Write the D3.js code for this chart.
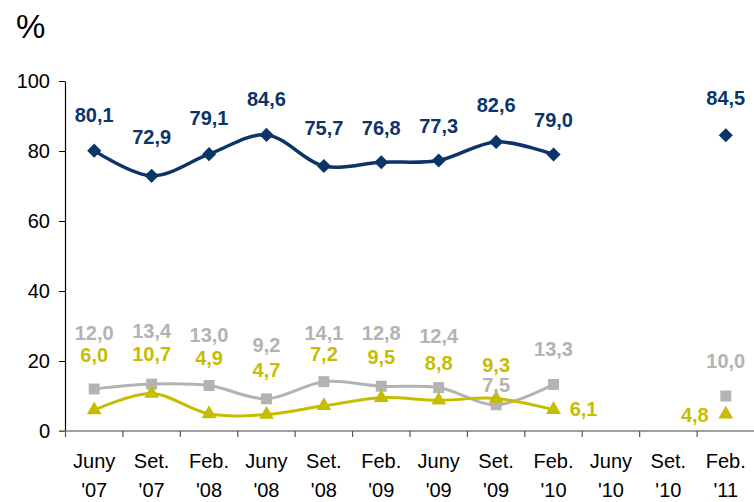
<!DOCTYPE html>
<html>
<head>
<meta charset="utf-8">
<script src="https://cdn.jsdelivr.net/npm/d3@7"></script>
<style>
  body { margin: 0; background: #fff; }
  svg { display: block; font-family: Arial, "Liberation Sans", sans-serif; }
</style>
</head>
<body>
<div id="chart"></div>
<script>
const categories = ["Juny '07", "Set. '07", "Feb. '08", "Juny '08", "Set. '08", "Feb. '09",
    "Juny '09", "Set. '09", "Feb. '10", "Juny '10", "Set. '10", "Feb. '11"];
const blueValues = [80.1, 72.9, 79.1, 84.6, 75.7, 76.8, 77.3, 82.6, 79.0, null, null, 84.5];
const grayValues = [12.0, 13.4, 13.0, 9.2, 14.1, 12.8, 12.4, 7.5, 13.3, null, null, 10.0];
const yellowValues = [6.0, 10.7, 4.9, 4.7, 7.2, 9.5, 8.8, 9.3, 6.1, null, null, 4.8];
const yTicks = [0, 20, 40, 60, 80, 100];

// label nudges [dx, dy] from each point to the text baseline
const blueLabelOffsets = [[0, -29], [0, -32], [0, -29], [0, -29], [0, -31], [0, -27], [0, -27], [0, -30], [0, -28], null, null, [0, -30]];
const grayLabelOffsets = [[0, -49], [0, -46], [0, -44], [0, -47], [0, -42], [0, -46], [0, -45], [0, -13], [0, -28], null, null, [0, -28]];
const yellowLabelOffsets = [[0, -48], [0, -33], [0, -49], [0, -38], [0, -45], [0, -34], [0, -30], [0, -26], [30, 6], null, null, [-31, 8]];

const width = 754;
const height = 502;

const svg = d3.select('#chart')
    .append('svg')
    .attr('width', width)
    .attr('height', height);

const x = d3.scaleBand().domain(categories).range([65.5, 754.5]);
const y = d3.scaleLinear().domain([0, 100]).range([431, 81]);

const locale = d3.formatLocale({ decimal: ',', thousands: '.', grouping: [3], currency: ['', ''] });
const fmt = locale.format('.1f');

// "%" title
svg.append('text')
    .attr('x', 16)
    .attr('y', 38)
    .attr('font-size', 33)
    .attr('fill', '#000')
    .text('%');

// Y axis
const yAxis = svg.append('g')
    .attr('transform', 'translate(65,0)')
    .call(d3.axisLeft(y).tickValues(yTicks).tickSize(6).tickSizeOuter(0).tickPadding(9));
yAxis.select('.domain').attr('stroke', '#000').attr('stroke-width', 1.2);
yAxis.selectAll('.tick line').attr('stroke', '#000');
yAxis.selectAll('.tick text')
    .attr('font-size', 20)
    .attr('font-family', 'Arial, "Liberation Sans", sans-serif')
    .attr('fill', '#000');

// X axis: labels at band centres, ticks at band edges
const xAxis = svg.append('g')
    .attr('transform', `translate(0,${y(0)})`)
    .call(d3.axisBottom(x).tickSize(0).tickSizeOuter(0).tickPadding(0));
xAxis.select('.domain').remove();
xAxis.append('line')
    .attr('x1', 59).attr('x2', width)
    .attr('stroke', '#808080').attr('stroke-width', 1.5);
xAxis.selectAll('.tick text').remove();
xAxis.selectAll('.tick').each(function (d) {
    const parts = d.split(' ');
    const t = d3.select(this).append('text')
        .attr('text-anchor', 'middle')
        .attr('font-size', 20)
        .attr('font-family', 'Arial, "Liberation Sans", sans-serif')
        .attr('fill', '#000');
    t.append('tspan').attr('x', 0).attr('y', 37).text(parts[0]);
    t.append('tspan').attr('x', 0).attr('y', 66).text(parts[1]);
});
xAxis.selectAll('.edge')
    .data(categories)
    .enter()
    .append('line')
    .attr('class', 'edge')
    .attr('x1', d => x(d)).attr('x2', d => x(d))
    .attr('y1', 0).attr('y2', 6)
    .attr('stroke', '#555')
    .attr('stroke-width', 1.2);

const line = d3.line()
    .defined(d => d.v != null)
    .x(d => x(d.c) + x.bandwidth() / 2)
    .y(d => y(d.v))
    .curve(d3.curveCatmullRom.alpha(0.5));

function drawSeries(values, offsets, color, symbol, size, rotate, lineWidth) {
    const pts = categories.map((c, i) => ({ c: c, v: values[i], off: offsets[i] }));
    const g = svg.append('g');
    g.append('path')
        .datum(pts)
        .attr('d', line)
        .attr('fill', 'none')
        .attr('stroke', color)
        .attr('stroke-width', lineWidth)
        .attr('stroke-linejoin', 'round');
    const valid = pts.filter(d => d.v != null);
    g.selectAll('.mark')
        .data(valid)
        .enter()
        .append('path')
        .attr('class', 'mark')
        .attr('d', d3.symbol().type(symbol).size(size))
        .attr('transform', d => `translate(${x(d.c) + x.bandwidth() / 2},${y(d.v)}) rotate(${rotate})`)
        .attr('fill', color);
    return valid;
}

const blueColor = '#0b3468';
const grayColor = '#b3b3b3';
const yellowColor = '#c6bd00';

const bluePts = drawSeries(blueValues, blueLabelOffsets, blueColor, d3.symbolSquare, 100, 45, 3.5);
const grayPts = drawSeries(grayValues, grayLabelOffsets, grayColor, d3.symbolSquare, 120, 0, 3);
const yellowPts = drawSeries(yellowValues, yellowLabelOffsets, yellowColor, d3.symbolTriangle, 95, 0, 3);

function drawLabels(pts, color) {
    svg.append('g')
        .selectAll('text')
        .data(pts)
        .enter()
        .append('text')
        .attr('x', d => x(d.c) + x.bandwidth() / 2 + d.off[0])
        .attr('y', d => y(d.v) + d.off[1])
        .attr('text-anchor', 'middle')
        .attr('font-size', 20)
        .attr('font-weight', 'bold')
        .attr('fill', color)
        .text(d => fmt(d.v));
}

drawLabels(bluePts, blueColor);
drawLabels(grayPts, grayColor);
drawLabels(yellowPts, yellowColor);
</script>
</body>
</html>
